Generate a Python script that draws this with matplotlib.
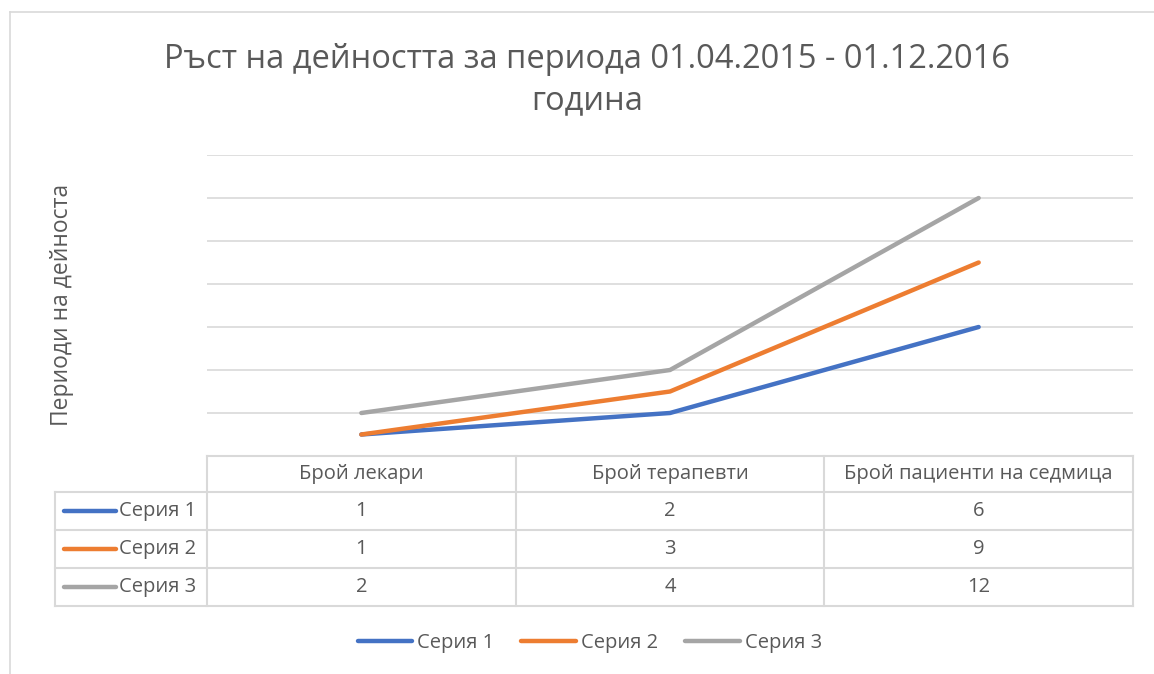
import matplotlib
matplotlib.use("Agg")
import matplotlib.pyplot as plt
from matplotlib.lines import Line2D

plt.rcParams['font.family'] = ['Open Sans', 'DejaVu Sans']

# Данни
categories = ["Брой лекари", "Брой терапевти", "Брой пациенти на седмица"]
series_names = ["Серия 1", "Серия 2", "Серия 3"]
series_1 = [1, 2, 6]
series_2 = [1, 3, 9]
series_3 = [2, 4, 12]
series_values = [series_1, series_2, series_3]
colors = ["#4472C4", "#ED7D31", "#A5A5A5"]

title = "Ръст на дейността за периода 01.04.2015 - 01.12.2016\nгодина"
ylabel = "Периоди на дейноста"

W, H = 1154, 674
text_c = "#595959"
grid_c = "#d9d9d9"
fs = 14.5

fig = plt.figure(figsize=(W / 100, H / 100), dpi=100)


def fx(px):
    return px / W


def fy(py):
    return 1 - py / H


# рамка на диаграмата
fig.add_artist(Line2D([fx(10), 1], [fy(12), fy(12)], color=grid_c, lw=1.2))
fig.add_artist(Line2D([fx(10), fx(10)], [fy(12), 0], color=grid_c, lw=1.2))

# Графика
x0, x1, ytop, ybot = 207, 1133, 155, 456
ax = fig.add_axes([fx(x0), fy(ybot), fx(x1 - x0), (ybot - ytop) / H])
for vals, c in zip(series_values, colors):
    ax.plot(range(len(categories)), vals, color=c, lw=3.2,
            solid_capstyle="round", solid_joinstyle="round", zorder=3)
ax.set_xlim(-0.5, len(categories) - 0.5)
ax.set_ylim(0, 14)
ax.set_yticks(range(0, 15, 2))
ax.yaxis.grid(True, color=grid_c, lw=1.2)
ax.set_xticks([])
ax.tick_params(left=False, labelleft=False)
for s in ax.spines.values():
    s.set_visible(False)

fig.text(0.509, fy(80), title, ha="center", va="center", fontsize=23.5,
         color=text_c, linespacing=1.36)
fig.text(fx(62), fy(305), ylabel, rotation=90, ha="center", va="center",
         fontsize=16.5, color=text_c)

# Таблица с данни
tx0, t_head, t_bot = 55, 456, 606
row_h = (t_bot - 492) / 3
col_w = (x1 - x0) / len(categories)
tax = fig.add_axes([0, 0, 1, 1])
tax.set_xlim(0, W)
tax.set_ylim(H, 0)
tax.axis("off")
lkw = dict(color=grid_c, lw=1.5)
tax.plot([x0, x1], [t_head, t_head], **lkw)
for i in range(4):
    yy = 492 + i * row_h
    tax.plot([tx0, x1], [yy, yy], **lkw)
tax.plot([tx0, tx0], [492, t_bot], **lkw)
for j in range(len(categories) + 1):
    xx = x0 + j * col_w
    tax.plot([xx, xx], [t_head, t_bot], **lkw)
for j, cat in enumerate(categories):
    tax.text(x0 + (j + 0.5) * col_w, (t_head + 492) / 2, cat, ha="center",
             va="center", fontsize=fs, color=text_c)
for i, (name, vals, c) in enumerate(zip(series_names, series_values, colors)):
    yc = 492 + (i + 0.5) * row_h
    tax.plot([64, 116], [yc, yc], color=c, lw=3.2, solid_capstyle="round")
    tax.text(119, yc, name, ha="left", va="center", fontsize=fs, color=text_c)
    for j, v in enumerate(vals):
        tax.text(x0 + (j + 0.5) * col_w, yc, str(v), ha="center",
                 va="center", fontsize=fs, color=text_c)

# Легенда
handles = [Line2D([], [], color=c, lw=3.2, solid_capstyle="round") for c in colors]
fig.legend(handles, series_names, loc="center", bbox_to_anchor=(0.511, fy(643)),
           ncol=3, frameon=False, fontsize=fs, handlelength=2.7,
           handletextpad=0.25, columnspacing=1.35, labelcolor=text_c)

fig.savefig("out.png", dpi=100)
